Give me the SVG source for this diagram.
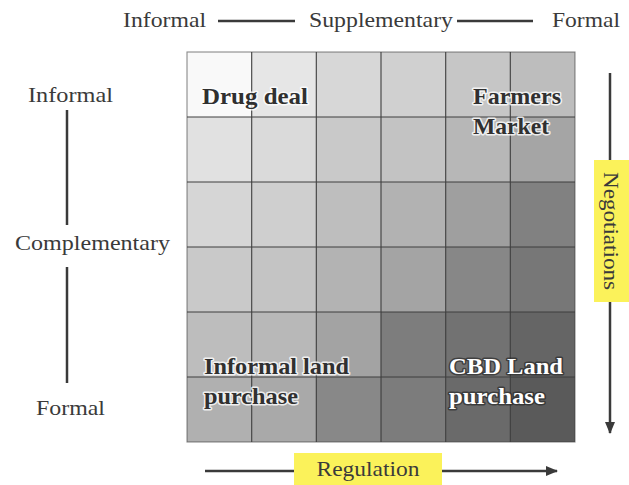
<svg xmlns="http://www.w3.org/2000/svg" width="629" height="485" viewBox="0 0 629 485">
  <defs>
    <marker id="head" markerWidth="12" markerHeight="10" refX="11" refY="5" orient="auto" markerUnits="userSpaceOnUse">
      <path d="M0,0 L12,5 L0,10 Z" fill="#3a3a3a"/>
    </marker>
    <filter id="soft" x="-5%" y="-5%" width="110%" height="110%">
      <feGaussianBlur stdDeviation="0.4"/>
    </filter>
  </defs>
  <style>
    .axis { font-family: "Liberation Serif", "DejaVu Serif", serif; font-size: 22px; fill: #3a3a3a; }
    .lab { font-family: "Liberation Serif", "DejaVu Serif", serif; font-size: 23px; font-weight: bold; }
    .dark { fill: #303030; stroke: #ffffff; stroke-width: 3; stroke-opacity: 0.8; paint-order: stroke; stroke-linejoin: round; }
    .light { fill: #ffffff; stroke: #2a2a2a; stroke-width: 3; stroke-opacity: 0.7; paint-order: stroke; stroke-linejoin: round; }
    .ln { stroke: #3a3a3a; stroke-width: 2.5; fill: none; }
    .grid { stroke: #3f3f3f; stroke-width: 1.1; fill: none; }
    .tag { fill: #fbf25a; }
  </style>
  <rect width="629" height="485" fill="#ffffff"/>

  <!-- shaded 6x6 matrix -->
  <g id="matrix" filter="url(#soft)">
    <rect x="187" y="52" width="65" height="65" fill="#f9f9f9"/>
    <rect x="252" y="52" width="65" height="65" fill="#e6e6e6"/>
    <rect x="316" y="52" width="65" height="65" fill="#d7d7d7"/>
    <rect x="381" y="52" width="65" height="65" fill="#d0d0d0"/>
    <rect x="446" y="52" width="65" height="65" fill="#c6c6c6"/>
    <rect x="510" y="52" width="65" height="65" fill="#bdbdbd"/>

    <rect x="187" y="117" width="65" height="65" fill="#e1e1e1"/>
    <rect x="252" y="117" width="65" height="65" fill="#dadada"/>
    <rect x="316" y="117" width="65" height="65" fill="#c9c9c9"/>
    <rect x="381" y="117" width="65" height="65" fill="#c3c3c3"/>
    <rect x="446" y="117" width="65" height="65" fill="#b7b7b7"/>
    <rect x="510" y="117" width="65" height="65" fill="#a5a5a5"/>

    <rect x="187" y="182" width="65" height="65" fill="#d6d6d6"/>
    <rect x="252" y="182" width="65" height="65" fill="#cfcfcf"/>
    <rect x="316" y="182" width="65" height="65" fill="#bebebe"/>
    <rect x="381" y="182" width="65" height="65" fill="#b2b2b2"/>
    <rect x="446" y="182" width="65" height="65" fill="#9f9f9f"/>
    <rect x="510" y="182" width="65" height="65" fill="#818181"/>

    <rect x="187" y="247" width="65" height="65" fill="#c9c9c9"/>
    <rect x="252" y="247" width="65" height="65" fill="#c4c4c4"/>
    <rect x="316" y="247" width="65" height="65" fill="#b3b3b3"/>
    <rect x="381" y="247" width="65" height="65" fill="#a4a4a4"/>
    <rect x="446" y="247" width="65" height="65" fill="#878787"/>
    <rect x="510" y="247" width="65" height="65" fill="#777777"/>

    <rect x="187" y="312" width="65" height="65" fill="#bdbdbd"/>
    <rect x="252" y="312" width="65" height="65" fill="#b8b8b8"/>
    <rect x="316" y="312" width="65" height="65" fill="#a3a3a3"/>
    <rect x="381" y="312" width="65" height="65" fill="#7d7d7d"/>
    <rect x="446" y="312" width="65" height="65" fill="#727272"/>
    <rect x="510" y="312" width="65" height="65" fill="#656565"/>

    <rect x="187" y="377" width="65" height="65" fill="#b0b0b0"/>
    <rect x="252" y="377" width="65" height="65" fill="#a9a9a9"/>
    <rect x="316" y="377" width="65" height="65" fill="#888888"/>
    <rect x="381" y="377" width="65" height="65" fill="#7b7b7b"/>
    <rect x="446" y="377" width="65" height="65" fill="#6b6b6b"/>
    <rect x="510" y="377" width="65" height="65" fill="#5a5a5a"/>

    <path class="grid" d="M251.7,52 V442 M316.3,52 V442 M381,52 V442 M445.7,52 V442 M510.3,52 V442
                          M187,117 H575 M187,182 H575 M187,247 H575 M187,312 H575 M187,377 H575"/>
    <rect class="grid" x="187" y="52" width="388" height="390" stroke-opacity="0.6"/>
  </g>

  <!-- labels inside the matrix -->
  <g id="drug-deal">
    <text class="lab dark" x="202" y="104" textLength="106" lengthAdjust="spacingAndGlyphs">Drug deal</text>
  </g>
  <g id="farmers-market">
    <text class="lab dark" x="473" y="104" textLength="88" lengthAdjust="spacingAndGlyphs">Farmers</text>
    <text class="lab dark" x="473" y="134" textLength="76" lengthAdjust="spacingAndGlyphs">Market</text>
  </g>
  <g id="informal-land-purchase">
    <text class="lab dark" x="204" y="374" textLength="145" lengthAdjust="spacingAndGlyphs">Informal land</text>
    <text class="lab dark" x="204" y="404" textLength="94" lengthAdjust="spacingAndGlyphs">purchase</text>
  </g>
  <g id="cbd-land-purchase">
    <text class="lab light" x="449" y="374" textLength="114" lengthAdjust="spacingAndGlyphs">CBD Land</text>
    <text class="lab light" x="449" y="404" textLength="96" lengthAdjust="spacingAndGlyphs">purchase</text>
  </g>

  <!-- axis labels -->
  <g id="top-axis">
    <text class="axis" x="123" y="27" textLength="83" lengthAdjust="spacingAndGlyphs">Informal</text>
    <text class="axis" x="309" y="27" textLength="144" lengthAdjust="spacingAndGlyphs">Supplementary</text>
    <text class="axis" x="552" y="27" textLength="68" lengthAdjust="spacingAndGlyphs">Formal</text>
  </g>
  <g id="left-axis">
    <text class="axis" x="28" y="102" textLength="85" lengthAdjust="spacingAndGlyphs">Informal</text>
    <text class="axis" x="15" y="250" textLength="155" lengthAdjust="spacingAndGlyphs">Complementary</text>
    <text class="axis" x="36" y="415" textLength="69" lengthAdjust="spacingAndGlyphs">Formal</text>
  </g>
  <g id="negotiations">
    <rect class="tag" x="594" y="160" width="35" height="142"/>
    <text class="axis" transform="translate(604,231) rotate(90)" x="0" y="0" text-anchor="middle" textLength="118" lengthAdjust="spacingAndGlyphs">Negotiations</text>
  </g>
  <g id="regulation">
    <rect class="tag" x="294" y="453" width="148" height="32"/>
    <text class="axis" x="368" y="476" text-anchor="middle" textLength="103" lengthAdjust="spacingAndGlyphs">Regulation</text>
  </g>

  <!-- connecting lines and arrows -->
  <g id="connectors">
    <line class="ln" x1="218" y1="21" x2="295" y2="21"/>
    <line class="ln" x1="457" y1="21" x2="533" y2="21"/>
    <line class="ln" x1="67" y1="110" x2="67" y2="225"/>
    <line class="ln" x1="67" y1="267" x2="67" y2="383"/>
    <line class="ln" x1="610" y1="73" x2="610" y2="160"/>
    <line class="ln" x1="610" y1="302" x2="610" y2="433" marker-end="url(#head)"/>
    <line class="ln" x1="205" y1="471" x2="294" y2="471"/>
    <line class="ln" x1="442" y1="471" x2="557" y2="471" marker-end="url(#head)"/>
  </g>
</svg>
